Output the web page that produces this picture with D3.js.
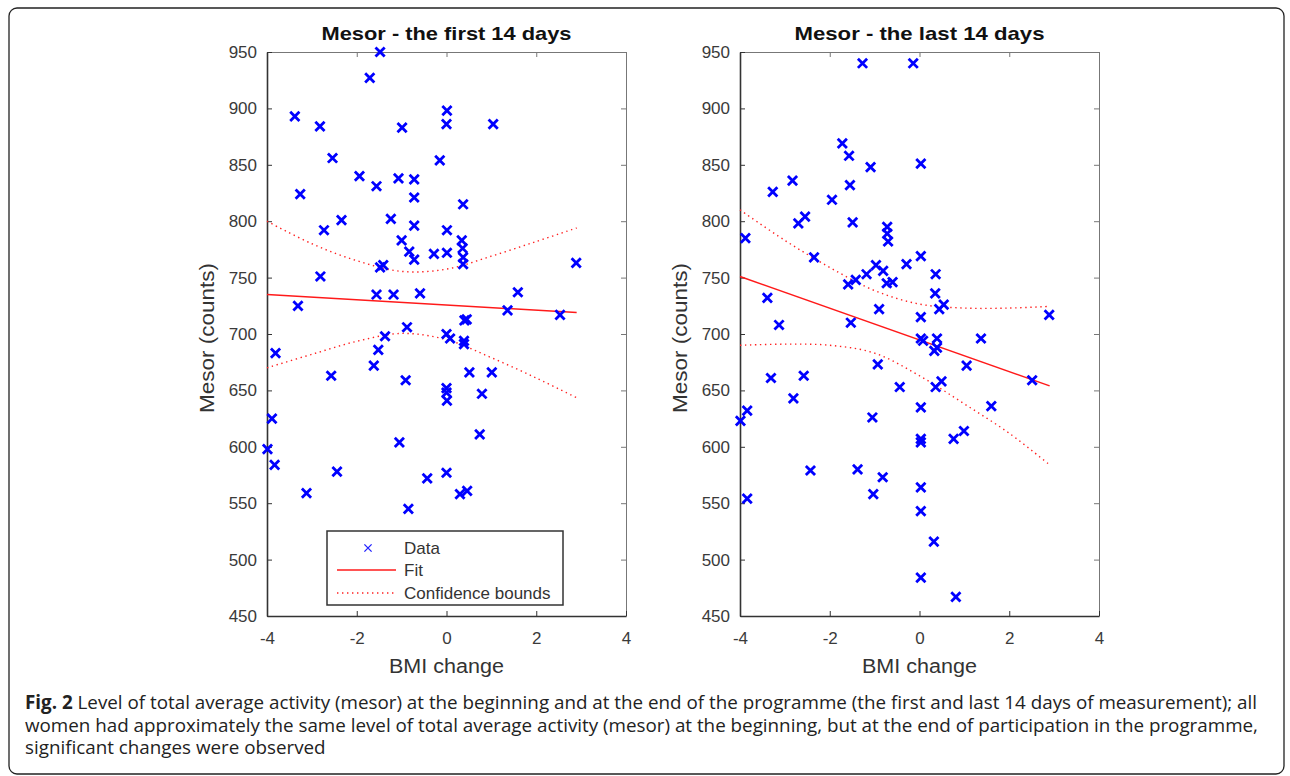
<!DOCTYPE html>
<html>
<head>
<meta charset="utf-8">
<script src="https://cdn.jsdelivr.net/npm/d3@7"></script>
<style>
  body { margin: 0; background: #fff; }
  svg { display: block; }
</style>
</head>
<body>
<div id="chart"></div>
<script>
// data: BMI change vs mesor
const firstX = [-1.48, -1.71, -3.38, -2.82, -0.99, 0.01, 0.0, 1.04, -2.54, -0.15, -1.94, -1.56, -1.07, -0.72, -0.72, -3.26,
  0.37, -2.34, -2.73, -1.24, -0.72, 0.01, -1.0, -0.83, -0.72, -0.28, 0.01, 0.34, 0.36, 0.37, 0.37, -1.48, -1.41, -2.81,
  2.89, -1.56, -1.18, -0.59, 1.59, 1.36, 2.53, -3.31, 0.40, 0.45, -0.88, 0.0, 0.08, 0.39, 0.39, -1.37, -1.52, -1.62,
  -3.81, -2.57, -0.91, 0.0, 0.0, 0.01, 0.51, 1.01, 0.79, -3.89, 0.74, -1.05, -3.99, -3.83, -2.44, 0.0, -0.43, -3.12,
  0.30, 0.46, -0.85];
const firstY = [950, 927, 893, 884, 883, 898, 886, 886, 856, 854, 840, 831, 838, 837, 821, 824,
  815, 801, 792, 802, 796, 792, 783, 773, 766, 771, 772, 783, 776, 768, 762, 759, 761, 751,
  763, 735, 735, 736, 737, 721, 717, 725, 712, 713, 706, 700, 696, 694, 691, 698, 686, 672,
  683, 663, 659, 652, 648, 641, 666, 666, 647, 625, 611, 604, 598, 584, 578, 577, 572, 559,
  558, 561, 545];

const lastX = [-1.27, -0.14, -1.72, -1.57, -1.09, 0.03, -2.83, -3.27, -1.55, -1.95, -2.70, -2.55, -1.49, -0.72, -0.72, -0.70,
  -3.88, -2.35, 0.03, -0.29, -0.97, -0.81, -1.18, -1.42, -1.59, -0.73, -0.60, 0.36, 0.35, 0.44, 0.54, -0.90, 0.03, 2.89,
  -3.39, -3.13, -1.53, 0.03, 0.08, 0.39, 0.33, 0.39, 1.37, 1.05, -0.93, 2.51, 0.49, 0.36, -0.44, -3.31, -2.58, -2.81,
  -3.84, -3.99, 0.03, 1.60, -1.05, 0.03, 0.03, 0.99, 0.76, -2.43, -1.38, -0.82, -1.03, -3.84, 0.03, 0.03, 0.32, 0.03, 0.81];
const lastY = [940, 940, 869, 858, 848, 851, 836, 826, 832, 819, 798, 804, 799, 795, 789, 782,
  785, 768, 769, 762, 761, 756, 753, 748, 744, 745, 746, 753, 736, 722, 726, 722, 715, 717,
  732, 708, 710, 696, 694, 696, 685, 688, 696, 672, 673, 659, 658, 653, 653, 661, 663, 643,
  632, 623, 635, 636, 626, 607, 604, 614, 607, 579, 580, 573, 558, 554, 564, 543, 516, 484, 467];

// fitted line, end points
const fitX = [-4, 2.9];
const firstFit = [735, 719];
const lastFit = [751, 654];

// confidence bounds, read at these x values
const boundX = [-4, -3, -2, -1, 0, 1, 2, 2.9];
const firstUpper = [800, 780, 765, 755.5, 757.5, 769, 782, 794];
const firstLower = [670, 682, 693.5, 700.5, 695, 679, 661, 643.5];
const lastUpper = [810, 783, 759, 738.5, 726.5, 723, 723, 724.5];
const lastLower = [690, 691, 690, 683, 663, 638, 612, 584];

const xTicks = [-4, -2, 0, 2, 4];
const yTicks = [450, 500, 550, 600, 650, 700, 750, 800, 850, 900, 950];

const width = 1290;
const height = 776;

const svg = d3.select("#chart")
  .append("svg")
  .attr("width", width)
  .attr("height", height);

// rounded frame round the whole figure
svg.append("rect")
  .attr("x", 9)
  .attr("y", 8)
  .attr("width", 1275)
  .attr("height", 766)
  .attr("rx", 8)
  .attr("fill", "none")
  .attr("stroke", "#222")
  .attr("stroke-width", 1.3);

const yScale = d3.scaleLinear().domain([450, 950]).range([616, 52]);

function drawPanel(left, title, xs, ys, fit, upper, lower, withLegend) {
  const xScale = d3.scaleLinear().domain([-4, 4]).range([left, left + 359]);
  const g = svg.append("g");
  const axisColor = "#333";

  // box: top and right ticks
  g.append("g")
    .attr("transform", `translate(0,${yScale(950)})`)
    .call(d3.axisTop(xScale).tickValues(xTicks).tickSize(-5).tickSizeOuter(0).tickFormat(""))
    .call((a) => a.selectAll("path,line").attr("stroke", "#777"));
  g.append("g")
    .attr("transform", `translate(${xScale(4)},0)`)
    .call(d3.axisRight(yScale).tickValues(yTicks).tickSize(-5).tickSizeOuter(0).tickFormat(""))
    .call((a) => a.selectAll("path,line").attr("stroke", "#777"));

  const xAxis = g.append("g")
    .attr("transform", `translate(0,${yScale(450)})`)
    .call(d3.axisBottom(xScale).tickValues(xTicks).tickSize(-5).tickSizeOuter(0).tickPadding(16)
      .tickFormat((d) => String(d)));
  const yAxis = g.append("g")
    .attr("transform", `translate(${xScale(-4)},0)`)
    .call(d3.axisLeft(yScale).tickValues(yTicks).tickSize(-5).tickSizeOuter(0).tickPadding(10));

  [xAxis, yAxis].forEach((a) => {
    a.select(".domain").attr("stroke", axisColor).attr("stroke-width", 1.6);
    a.selectAll(".tick line").attr("stroke", axisColor);
    a.selectAll("text")
      .attr("font-family", "Liberation Sans, Arial, sans-serif")
      .attr("font-size", 17)
      .attr("fill", "#3a3a3a");
  });

  // confidence bounds
  const band = d3.line()
    .x((d, i) => xScale(boundX[i]))
    .y((d) => yScale(d))
    .curve(d3.curveCatmullRom);
  [upper, lower].forEach((vals) => {
    g.append("path")
      .attr("d", band(vals))
      .attr("fill", "none")
      .attr("stroke", "#ff2020")
      .attr("stroke-width", 1.4)
      .attr("stroke-dasharray", "1.4,3.6");
  });

  // fit
  g.append("path")
    .attr("d", d3.line().x((d, i) => xScale(fitX[i])).y((d) => yScale(d))(fit))
    .attr("fill", "none")
    .attr("stroke", "#ff1a1a")
    .attr("stroke-width", 1.5);

  // data crosses
  const s = 4.6;
  g.append("g")
    .selectAll("path")
    .data(xs.map((x, i) => [x, ys[i]]))
    .join("path")
    .attr("transform", (d) => `translate(${xScale(d[0])},${yScale(d[1])})`)
    .attr("d", `M${-s},${-s}L${s},${s}M${-s},${s}L${s},${-s}`)
    .attr("stroke", "#0000ff")
    .attr("stroke-width", 2.8)
    .attr("fill", "none");

  // titles
  g.append("text")
    .attr("x", xScale(0))
    .attr("y", 40)
    .attr("text-anchor", "middle")
    .attr("font-family", "Liberation Sans, Arial, sans-serif")
    .attr("font-weight", "bold")
    .attr("font-size", 19)
    .attr("textLength", 250)
    .attr("lengthAdjust", "spacingAndGlyphs")
    .attr("fill", "#111")
    .text(title);

  g.append("text")
    .attr("x", xScale(0))
    .attr("y", 673)
    .attr("text-anchor", "middle")
    .attr("font-family", "Liberation Sans, Arial, sans-serif")
    .attr("font-size", 20)
    .attr("textLength", 115)
    .attr("lengthAdjust", "spacingAndGlyphs")
    .attr("fill", "#333")
    .text("BMI change");

  g.append("text")
    .attr("transform", `translate(${xScale(-4) - 53},338) rotate(-90)`)
    .attr("text-anchor", "middle")
    .attr("font-family", "Liberation Sans, Arial, sans-serif")
    .attr("font-size", 20)
    .attr("textLength", 150)
    .attr("lengthAdjust", "spacingAndGlyphs")
    .attr("fill", "#333")
    .text("Mesor (counts)");

  if (withLegend) {
    const lg = g.append("g").attr("transform", "translate(327,531)");
    lg.append("rect")
      .attr("width", 236)
      .attr("height", 74)
      .attr("fill", "#fff")
      .attr("stroke", "#333")
      .attr("stroke-width", 1.5);
    const font = (t) => t
      .attr("font-family", "Liberation Sans, Arial, sans-serif")
      .attr("font-size", 17)
      .attr("fill", "#333");
    const ls = 3.6;
    lg.append("path")
      .attr("d", `M${41 - ls},${17 - ls}L${41 + ls},${17 + ls}M${41 - ls},${17 + ls}L${41 + ls},${17 - ls}`)
      .attr("stroke", "#2020ff")
      .attr("stroke-width", 1.3);
    lg.append("line").attr("x1", 10).attr("x2", 69).attr("y1", 39).attr("y2", 39)
      .attr("stroke", "#ff1a1a").attr("stroke-width", 1.5);
    lg.append("line").attr("x1", 10).attr("x2", 69).attr("y1", 62).attr("y2", 62)
      .attr("stroke", "#ff2020").attr("stroke-width", 1.4).attr("stroke-dasharray", "1.4,3.6");
    ["Data", "Fit", "Confidence bounds"].forEach((t, i) => {
      lg.append("text").attr("x", 77).attr("y", 17 + i * 22.5).attr("dy", "0.35em").call(font).text(t);
    });
  }
}

drawPanel(267, "Mesor - the first 14 days", firstX, firstY, firstFit, firstUpper, firstLower, true);
drawPanel(740, "Mesor - the last 14 days", lastX, lastY, lastFit, lastUpper, lastLower, false);

// caption
const captionLines = [
  ["Fig. 2", " Level of total average activity (mesor) at the beginning and at the end of the programme (the first and last 14 days of measurement); all"],
  ["", "women had approximately the same level of total average activity (mesor) at the beginning, but at the end of participation in the programme,"],
  ["", "significant changes were observed"]
];

const cap = svg.append("g")
  .attr("font-family", "Open Sans, Noto Sans, sans-serif")
  .attr("font-size", 17)
  .attr("fill", "#222");

captionLines.forEach(([bold, rest], i) => {
  const t = cap.append("text").attr("x", 25).attr("y", 709 + i * 22.7);
  if (bold) t.append("tspan").attr("font-weight", "bold").text(bold);
  t.append("tspan").text(rest);
});

// scale caption so the first line spans the width seen in the figure
const w1 = cap.select("text").node().getComputedTextLength();
cap.attr("font-size", 17 * 1233 / w1);
</script>
</body>
</html>
